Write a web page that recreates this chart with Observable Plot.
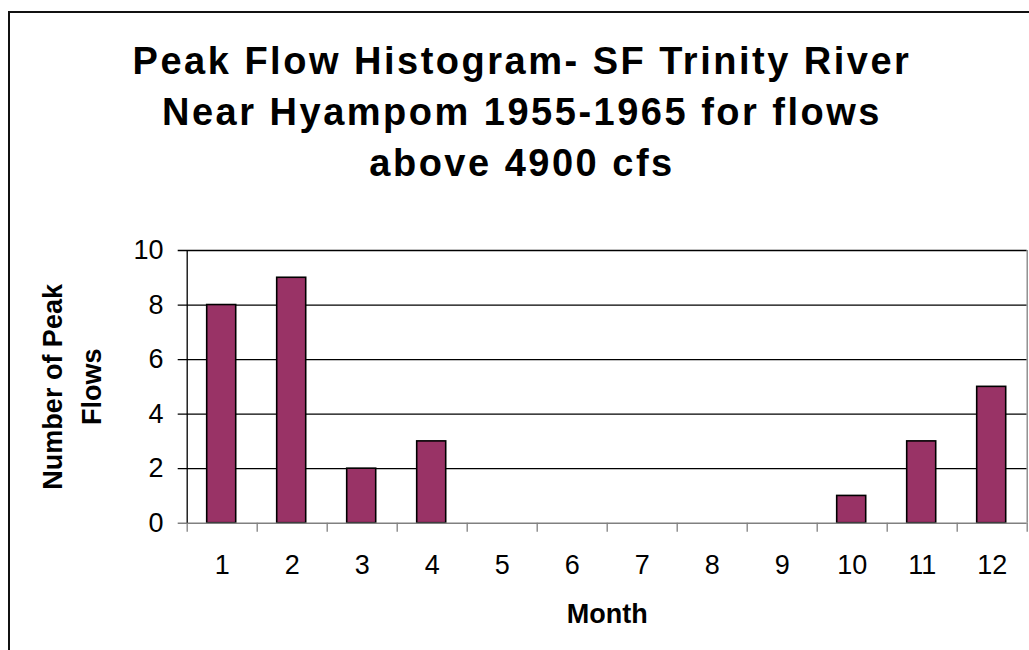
<!DOCTYPE html>
<html>
<head>
<meta charset="utf-8">
<script src="https://cdn.jsdelivr.net/npm/d3@7"></script>
<script src="https://cdn.jsdelivr.net/npm/@observablehq/plot@0.6"></script>
<style>
  body { margin: 0; background: #fff; overflow: hidden; }
  #wrap { position: relative; width: 1029px; height: 650px; overflow: hidden; font-family: "Liberation Sans", Arial, sans-serif; background: #fff; }
  #frame { position: absolute; left: 8px; top: 11px; width: 1100px; height: 700px; border: 2px solid #111; box-sizing: border-box; }
  #title { position: absolute; left: 0; top: 36px; width: 1044px; text-align: center; font-weight: bold; font-size: 38px; letter-spacing: 2.5px; line-height: 51px; color: #000; }
  #chart { position: absolute; left: 0; top: 200px; }
</style>
</head>
<body>
<div id="wrap">
  <div id="frame"></div>
  <div id="title">Peak Flow Histogram- SF Trinity River<br>Near Hyampom 1955-1965 for flows<br>above 4900 cfs</div>
  <div id="chart"></div>
</div>
<script>
const months = [1, 2, 3, 4, 5, 6, 7, 8, 9, 10, 11, 12];
const counts = [8, 9, 2, 3, 0, 0, 0, 0, 0, 1, 3, 5];
const yTicks = [0, 2, 4, 6, 8, 10];
const xLabel = "Month";
const yLabel = "Number of Peak\nFlows";

const data = months.map((m, i) => ({month: m, count: counts[i]}));
const edges = [...months.map(m => m - 0.5), months[months.length - 1] + 0.5];
const grid = yTicks.filter(v => v > 0);

const chart = Plot.plot({
  width: 1029,
  height: 450,
  marginTop: 50,
  marginBottom: 127.3,
  marginLeft: 186.7,
  marginRight: 2.3,
  style: {fontFamily: "'Liberation Sans', Arial, sans-serif", fontSize: "27px", color: "#000", background: "transparent", overflow: "visible"},
  x: {domain: [edges[0], edges[edges.length - 1]]},
  y: {domain: [yTicks[0], yTicks[yTicks.length - 1]]},
  marks: [
    Plot.ruleY(grid, {stroke: "#000", strokeWidth: 1.3, insetLeft: -9}),
    Plot.ruleX([edges[edges.length - 1]], {y1: yTicks[0], y2: yTicks[yTicks.length - 1], stroke: "#808080", strokeWidth: 1.3}),
    Plot.rectY(data, {
      filter: d => d.count > 0,
      x1: d => d.month - 0.5, x2: d => d.month + 0.5, y: "count",
      insetLeft: 20, insetRight: 21,
      fill: "#993366", stroke: "#000", strokeWidth: 1.6
    }),
    Plot.ruleY([0], {stroke: "#808080", strokeWidth: 1.6, insetLeft: -9}),
    Plot.axisX({ticks: edges, tickSize: 9, tickFormat: () => "", stroke: "#808080", strokeWidth: 1.3, label: null}),
    Plot.axisX({ticks: months, tickSize: 0, tickPadding: 32, fontSize: 27, label: null}),
    Plot.ruleX([edges[0]], {y1: yTicks[0], y2: yTicks[yTicks.length - 1], stroke: "#000", strokeWidth: 1.3}),
    Plot.axisY({ticks: yTicks, tickSize: 0, tickPadding: 23.7, fontSize: 27, label: null}),
    Plot.text([xLabel], {text: d => d, frameAnchor: "bottom", lineAnchor: "bottom", dy: 99.3, fontSize: 27, fontWeight: "bold", fill: "#000", ariaLabel: "xlabel"}),
    Plot.text([yLabel], {text: d => d, frameAnchor: "left", textAnchor: "middle", rotate: -90, dx: -118.5, lineHeight: 1.48, fontSize: 27, fontWeight: "bold", fill: "#000", ariaLabel: "ylabel"})
  ]
});
d3.select(chart).selectAll("g[aria-label=xlabel] text").style("letter-spacing", "1.8px");
d3.select(chart).selectAll("g[aria-label=ylabel] text").style("letter-spacing", "0.4px");
document.getElementById("chart").appendChild(chart);
</script>
</body>
</html>
